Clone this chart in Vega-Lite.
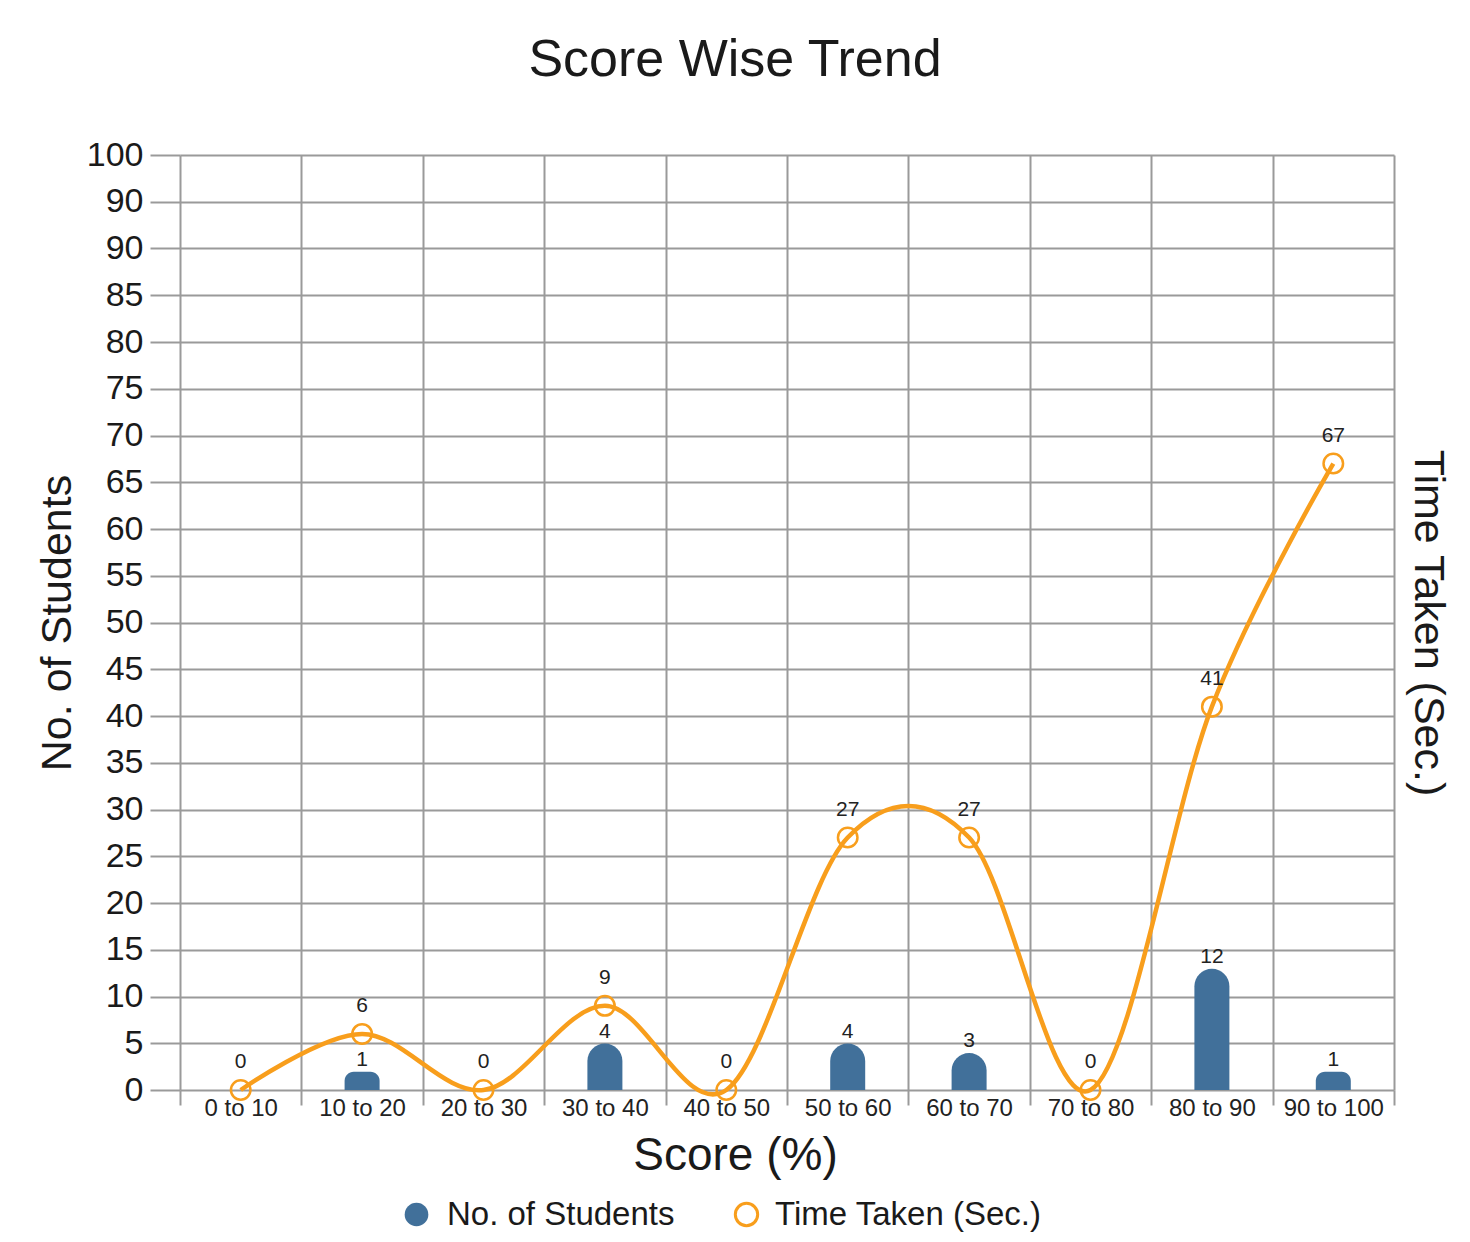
{
  "$schema": "https://vega.github.io/schema/vega-lite/v6.json",
  "width": 1214,
  "height": 935,
  "autosize": {"type": "none"},
  "padding": {"left": 180, "top": 155, "right": 76, "bottom": 152},
  "background": "white",
  "title": {
    "text": "Score Wise Trend",
    "fontSize": 52,
    "font": "Liberation Sans",
    "fontWeight": "normal",
    "color": "#1a1a1a",
    "anchor": "middle",
    "frame": "group",
    "dx": -52,
    "offset": 10,
    "baseline": "alphabetic"
  },
  "data": {
    "values": [
      {"range": "0 to 10", "students": 0, "time": 0},
      {"range": "10 to 20", "students": 1, "time": 6},
      {"range": "20 to 30", "students": 0, "time": 0},
      {"range": "30 to 40", "students": 4, "time": 9},
      {"range": "40 to 50", "students": 0, "time": 0},
      {"range": "50 to 60", "students": 4, "time": 27},
      {"range": "60 to 70", "students": 3, "time": 27},
      {"range": "70 to 80", "students": 0, "time": 0},
      {"range": "80 to 90", "students": 12, "time": 41},
      {"range": "90 to 100", "students": 1, "time": 67}
    ]
  },
  "encoding": {
    "x": {
      "field": "range",
      "type": "nominal",
      "scale": {
        "domain": ["0 to 10", "10 to 20", "20 to 30", "30 to 40", "40 to 50", "50 to 60", "60 to 70", "70 to 80", "80 to 90", "90 to 100"],
        "paddingInner": 0,
        "paddingOuter": 0
      },
      "axis": {
        "title": "Score (%)",
        "titleFontSize": 46,
        "titleFontWeight": "normal",
        "titleColor": "#1a1a1a",
        "titlePadding": 13,
        "titleX": 555,
        "labelFontSize": 24,
        "labelColor": "#222222",
        "labelPadding": -9,
        "labelAngle": 0,
        "tickBand": "extent",
        "tickSize": 15,
        "tickColor": "#9a9a9a",
        "tickWidth": 2,
        "grid": true,
        "gridColor": "#9a9a9a",
        "gridWidth": 2,
        "gridOpacity": 1,
        "domain": false
      }
    }
  },
  "layer": [
    {
      "transform": [{"filter": "datum.students > 0"}],
      "encoding": {
        "y": {
          "field": "students",
          "type": "quantitative",
          "stack": null,
          "scale": {"domain": [0, 100], "nice": false},
          "axis": {
            "orient": "left",
            "title": "No. of Students",
            "titleFontSize": 43,
            "titleFontWeight": "normal",
            "titleColor": "#1a1a1a",
            "titlePadding": 7,
            "values": [0, 5, 10, 15, 20, 25, 30, 35, 40, 45, 50, 55, 60, 65, 70, 75, 80, 85, 90, 95, 100],
            "labelExpr": "datum.value == 95 ? '90' : datum.label",
            "labelFontSize": 34,
            "labelColor": "#1a1a1a",
            "labelPadding": 7,
            "tickSize": 30,
            "tickColor": "#9a9a9a",
            "tickWidth": 2,
            "grid": true,
            "gridColor": "#9a9a9a",
            "gridWidth": 2,
            "gridOpacity": 1,
            "domain": false
          }
        }
      },
      "layer": [
        {
          "mark": {
            "type": "bar",
            "size": 35,
            "cornerRadiusTopLeft": 17.5,
            "cornerRadiusTopRight": 17.5,
            "yOffset": -9
          },
          "encoding": {
            "color": {
              "datum": "No. of Students",
              "type": "nominal",
              "scale": {
                "domain": ["No. of Students"],
                "range": ["#41709a"]
              },
              "legend": {
                "orient": "none",
                "legendX": 220,
                "legendY": 1043,
                "title": null,
                "symbolType": "circle",
                "symbolSize": 560,
                "labelFontSize": 33,
                "labelColor": "#1a1a1a",
                "labelOffset": 14,
                "labelLimit": 0
              }
            }
          }
        },
        {
          "mark": {"type": "text", "fontSize": 21, "dy": -15, "baseline": "alphabetic", "color": "#222222"},
          "encoding": {"text": {"field": "students", "type": "quantitative"}}
        }
      ]
    },
    {
      "encoding": {
        "y": {
          "field": "time",
          "type": "quantitative",
          "scale": {"domain": [0, 100], "nice": false},
          "axis": {
            "orient": "right",
            "title": "Time Taken (Sec.)",
            "titleFontSize": 43,
            "titleFontWeight": "normal",
            "titleColor": "#1a1a1a",
            "titlePadding": 11,
            "labels": false,
            "ticks": false,
            "domain": false,
            "grid": false
          }
        }
      },
      "layer": [
        {
          "mark": {"type": "line", "interpolate": "cardinal", "strokeWidth": 4.5, "color": "#f89e1c"}
        },
        {
          "mark": {"type": "point", "shape": "circle", "filled": false, "size": 380, "strokeWidth": 2.5, "opacity": 1},
          "encoding": {
            "stroke": {
              "datum": "Time Taken (Sec.)",
              "type": "nominal",
              "scale": {"domain": ["Time Taken (Sec.)"], "range": ["#f89e1c"]},
              "legend": {
                "orient": "none",
                "legendX": 550,
                "legendY": 1043,
                "title": null,
                "symbolType": "circle",
                "symbolSize": 500,
                "symbolStrokeWidth": 3,
                "symbolFillColor": "transparent",
                "labelFontSize": 33,
                "labelColor": "#1a1a1a",
                "labelOffset": 12,
                "labelLimit": 0
              }
            }
          }
        },
        {
          "mark": {"type": "text", "fontSize": 21, "dy": -22, "baseline": "alphabetic", "color": "#222222"},
          "encoding": {"text": {"field": "time", "type": "quantitative"}}
        }
      ]
    }
  ],
  "resolve": {"axis": {"y": "independent"}, "scale": {"color": "independent"}},
  "config": {
    "view": {"stroke": null},
    "font": "Liberation Sans"
  }
}
